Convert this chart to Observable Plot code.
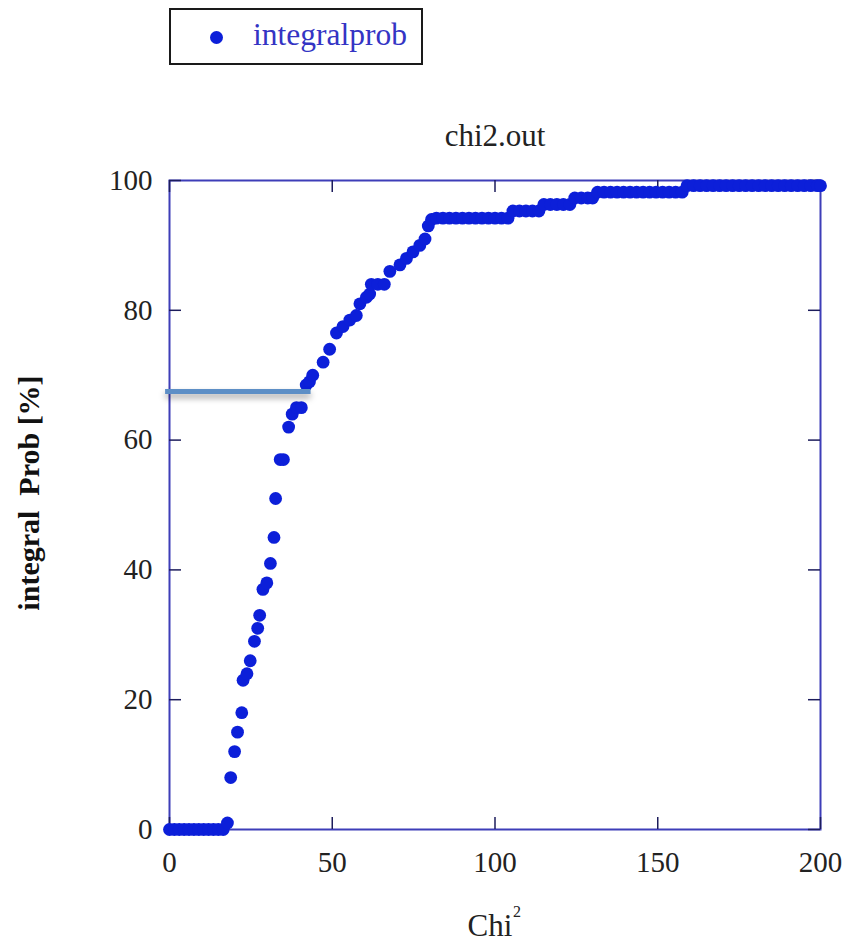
<!DOCTYPE html>
<html>
<head>
<meta charset="utf-8">
<script src="https://cdn.jsdelivr.net/npm/d3@7"></script>
<script src="https://cdn.jsdelivr.net/npm/@observablehq/plot@0.6"></script>
<style>
  html, body { margin: 0; padding: 0; background: #ffffff; }
  #wrap { position: relative; width: 850px; height: 946px; overflow: hidden; }
  #legend {
    position: absolute; left: 169px; top: 8px; width: 254px; height: 57px;
    box-sizing: border-box; border: 2px solid #1a1a1a; background: #fff;
    font-family: "Liberation Serif", "Times New Roman", Times, serif; font-size: 31.5px; color: #3434c4;
  }
  #legend .dot {
    position: absolute; left: 39px; top: 21px; width: 13px; height: 13px;
    border-radius: 50%; background: #0c1fd9;
  }
  #legend .lab { position: absolute; left: 82px; top: 7px; line-height: 36px; }
  #chart { position: absolute; left: 0; top: 0; }
  #chart svg, #chart svg text { font-family: "Liberation Serif", "Times New Roman", Times, serif !important; }
</style>
</head>
<body>
<div id="wrap">
  <div id="chart"></div>
  <div id="legend"><span class="dot"></span><span class="lab" id="legendLabel"></span></div>
</div>
<script>
// ---- data ----
const seriesName = "integralprob";
const chartTitle = "chi2.out";
const xLabel = "Chi";
const xLabelSup = "2";
const yLabel = "integral\u00A0 Prob [%]";

const chiValues = [
  0, 1.5, 3, 4.5, 6, 7.5, 9, 10.5, 12, 13.5, 15, 16.5,
  17.8, 18.8, 20, 20.9, 22.2, 22.6, 23.8, 24.8, 26.1, 27.1, 27.7, 28.7, 29.9,
  31, 32.1, 32.6, 34, 35, 36.6, 37.7, 39, 40.5, 42, 43, 44, 47.2, 49.2,
  51.3, 53.3, 55.4, 57.4, 58.5, 60.5, 61.5, 62, 64, 66, 67.7, 70.8, 72.8,
  74.8, 76.9, 78.5, 79.5, 80.5,
  82, 84, 86, 88, 90, 92, 94, 96, 98, 100, 102, 104,
  105.5, 107.5, 109.5, 111.5, 113.5,
  115, 117, 119, 121, 123,
  124.5, 126.5, 128.5, 130,
  131.5, 133.5, 135.5, 137.5, 139.5, 141.5, 143.5, 145.5, 147.5, 149.5, 151.5, 153.5, 155.5, 157.5,
  159, 161, 163, 165, 167, 169, 171, 173, 175, 177, 179, 181, 183, 185, 187, 189, 191, 193, 195, 197, 199, 200
];
const probValues = [
  0, 0, 0, 0, 0, 0, 0, 0, 0, 0, 0, 0,
  1, 8, 12, 15, 18, 23, 24, 26, 29, 31, 33, 37, 38,
  41, 45, 51, 57, 57, 62, 64, 65, 65, 68.5, 69, 70, 72, 74,
  76.5, 77.5, 78.5, 79.2, 81, 82, 82.5, 84, 84, 84, 86, 87, 88,
  89, 90, 91, 93, 94,
  94.2, 94.2, 94.2, 94.2, 94.2, 94.2, 94.2, 94.2, 94.2, 94.2, 94.2, 94.2,
  95.3, 95.3, 95.3, 95.3, 95.3,
  96.3, 96.3, 96.3, 96.3, 96.3,
  97.3, 97.3, 97.3, 97.3,
  98.2, 98.2, 98.2, 98.2, 98.2, 98.2, 98.2, 98.2, 98.2, 98.2, 98.2, 98.2, 98.2, 98.2,
  99.2, 99.2, 99.2, 99.2, 99.2, 99.2, 99.2, 99.2, 99.2, 99.2, 99.2, 99.2, 99.2, 99.2, 99.2, 99.2, 99.2, 99.2, 99.2, 99.2, 99.2, 99.2
];

const xTicks = [0, 50, 100, 150, 200];
const yTicks = [0, 20, 40, 60, 80, 100];
const xDomain = [0, 200];
const yDomain = [0, 100];

// annotation line (drawn on the reference)
const refLevel = [67.5];
const refFrom = -1.2;
const refTo = 43.5;

// ---- build ----
const data = chiValues.map((x, i) => ({x, y: probValues[i]}));
document.getElementById("legendLabel").textContent = seriesName;

const W = 850, H = 946;
const mL = 169, mR = 30, mT = 180, mB = 117;
const frameW = W - mL - mR, frameH = H - mT - mB;
const tickLen = 12;
const tickColor = "#1c1c5c";
const serif = "'Liberation Serif', 'Times New Roman', Times, serif";

const chart = Plot.plot({
  width: W, height: H,
  marginLeft: mL, marginRight: mR, marginTop: mT, marginBottom: mB,
  x: {domain: xDomain, axis: null},
  y: {domain: yDomain, axis: null},
  style: {fontFamily: serif, fontSize: "29px", color: "#222", background: "transparent", overflow: "visible"},
  marks: [
    Plot.frame({stroke: "#3d3db8", strokeWidth: 2}),
    Plot.ruleX(xTicks, {x: d => d, insetTop: frameH - tickLen, stroke: tickColor, strokeWidth: 1.5}),
    Plot.ruleX(xTicks, {x: d => d, insetBottom: frameH - tickLen, stroke: tickColor, strokeWidth: 1.5}),
    Plot.ruleY(yTicks, {y: d => d, insetRight: frameW - tickLen, stroke: tickColor, strokeWidth: 1.5}),
    Plot.ruleY(yTicks, {y: d => d, insetLeft: frameW - tickLen, stroke: tickColor, strokeWidth: 1.5}),
    Plot.text(xTicks, {x: d => d, text: d => String(d), frameAnchor: "bottom", lineAnchor: "middle", textAnchor: "middle", dy: 33, fill: "#222", fontSize: 29, fontFamily: serif, clip: false}),
    Plot.text(yTicks, {y: d => d, text: d => String(d), frameAnchor: "left", lineAnchor: "middle", textAnchor: "end", dx: -17, fill: "#222", fontSize: 29, fontFamily: serif, clip: false}),
    Plot.dot(data, {x: "x", y: "y", r: 6.4, fill: "#0c1fd9", stroke: null, clip: false}),
    Plot.ruleY(refLevel, {y: d => d, x1: refFrom, x2: refTo, stroke: "#5d8fc6", strokeWidth: 5, clip: false,
      imageFilter: "drop-shadow(0px 4px 3px rgba(0,0,0,0.35))"}),
    Plot.text([chartTitle], {frameAnchor: "top", lineAnchor: "bottom", dy: -35, fontSize: 31, fill: "#222", fontFamily: serif}),
    Plot.text([xLabel], {frameAnchor: "bottom", lineAnchor: "bottom", textAnchor: "middle", dx: -5, dy: 106, fontSize: 31, fill: "#222", fontFamily: serif}),
    Plot.text([xLabelSup], {frameAnchor: "bottom", lineAnchor: "bottom", textAnchor: "start", dx: 18, dy: 87, fontSize: 16, fill: "#222", fontFamily: serif}),
    Plot.text([yLabel], {frameAnchor: "left", textAnchor: "middle", rotate: -90, dx: -140, dy: -12, fontSize: 30, fontWeight: "bold", fill: "#111", fontFamily: serif})
  ]
});
document.getElementById("chart").appendChild(chart);
</script>
</body>
</html>
